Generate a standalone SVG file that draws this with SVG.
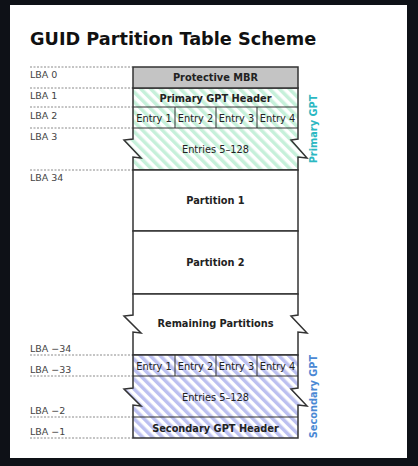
<svg xmlns="http://www.w3.org/2000/svg" width="418" height="466" viewBox="0 0 418 466">
<style>
.t{font-family:"DejaVu Sans","Noto Sans",sans-serif;font-size:9.8px;fill:#222;text-anchor:middle}
.b{font-weight:bold}
.lba{font-family:"DejaVu Sans","Noto Sans",sans-serif;font-size:9.5px;fill:#444}
.dash{stroke:#8a8a8a;stroke-width:1;stroke-dasharray:2,1.5;fill:none}
.box{stroke:#333;stroke-width:1.5}
.div{stroke:#333;stroke-width:1;fill:none}
</style>
<defs>
<pattern id="hg" patternUnits="userSpaceOnUse" width="7" height="7" patternTransform="rotate(-45)">
<rect width="7" height="7" fill="#ffffff"/><rect width="3.5" height="7" fill="#c6f0da"/>
</pattern>
<pattern id="hb" patternUnits="userSpaceOnUse" width="7" height="7" patternTransform="rotate(-45)">
<rect width="7" height="7" fill="#ffffff"/><rect width="3.5" height="7" fill="#bcc0f0"/>
</pattern>
</defs>
<rect width="418" height="466" fill="#0e1117"/>
<rect x="10" y="5" width="397" height="453" fill="#ffffff"/>
<text x="30" y="45" font-family="DejaVu Sans,sans-serif" font-weight="bold" font-size="17.7" fill="#111">GUID Partition Table Scheme</text>

<g id="guides">
<path class="dash" d="M30 67H133M30 88H133M30 107H133M30 128H133M30 170H133M30 355H133M30 376H133M30 417H133M30 438H133"/>
<text class="lba" x="30" y="78">LBA 0</text>
<text class="lba" x="30" y="98.5">LBA 1</text>
<text class="lba" x="30" y="119">LBA 2</text>
<text class="lba" x="30" y="140">LBA 3</text>
<text class="lba" x="30" y="180.5">LBA 34</text>
<text class="lba" x="30" y="352">LBA −34</text>
<text class="lba" x="30" y="373">LBA −33</text>
<text class="lba" x="30" y="413.5">LBA −2</text>
<text class="lba" x="30" y="435">LBA −1</text>
</g>

<g id="primary-gpt">
<polygon class="box" fill="url(#hg)" points="133,88 298,88 298,139 291,140 307,158 298,157 298,170 133,170 133,157 141,158 124,140 133,139"/>
<path class="div" d="M133 107H298M133 128H298M175 107V128M216 107V128M257 107V128"/>
<text class="t b" x="215.5" y="101.5">Primary GPT Header</text>
<text class="t" x="154" y="121.5">Entry 1</text>
<text class="t" x="195.5" y="121.5">Entry 2</text>
<text class="t" x="236.5" y="121.5">Entry 3</text>
<text class="t" x="277.5" y="121.5">Entry 4</text>
<text class="t" x="215.5" y="153">Entries 5–128</text>
<text class="t b" transform="translate(317,129) rotate(-90)" fill="#2bb8c2" style="fill:#2bb8c2">Primary GPT</text>
</g>

<g id="protective-mbr">
<rect class="box" x="133" y="67" width="165" height="21" fill="#c4c4c4"/>
<text class="t b" x="215.5" y="81">Protective MBR</text>
</g>

<g id="partition-1">
<rect class="box" x="133" y="170" width="165" height="61" fill="#ffffff"/>
<text class="t b" x="215.5" y="204">Partition 1</text>
</g>
<g id="partition-2">
<rect class="box" x="133" y="231" width="165" height="63" fill="#ffffff"/>
<text class="t b" x="215.5" y="266">Partition 2</text>
</g>
<g id="remaining">
<polygon class="box" fill="#ffffff" points="133,294 298,294 298,315 291,316 307,333 298,332 298,355 133,355 133,332 141,333 124,316 133,315"/>
<text class="t b" x="215.5" y="327">Remaining Partitions</text>
</g>

<g id="secondary-gpt">
<polygon class="box" fill="url(#hb)" points="133,355 298,355 298,388 291,389 307,406 298,405 298,438 133,438 133,405 141,406 124,389 133,388"/>
<path class="div" d="M133 376H298M133 417H298M175 355V376M216 355V376M257 355V376"/>
<text class="t" x="154" y="369.5">Entry 1</text>
<text class="t" x="195.5" y="369.5">Entry 2</text>
<text class="t" x="236.5" y="369.5">Entry 3</text>
<text class="t" x="277.5" y="369.5">Entry 4</text>
<text class="t" x="215.5" y="401">Entries 5–128</text>
<text class="t b" x="215.5" y="431.5">Secondary GPT Header</text>
<text class="t b" transform="translate(317,396.5) rotate(-90)" style="fill:#4a88d4">Secondary GPT</text>
</g>
<g id="connectors"></g>
</svg>
